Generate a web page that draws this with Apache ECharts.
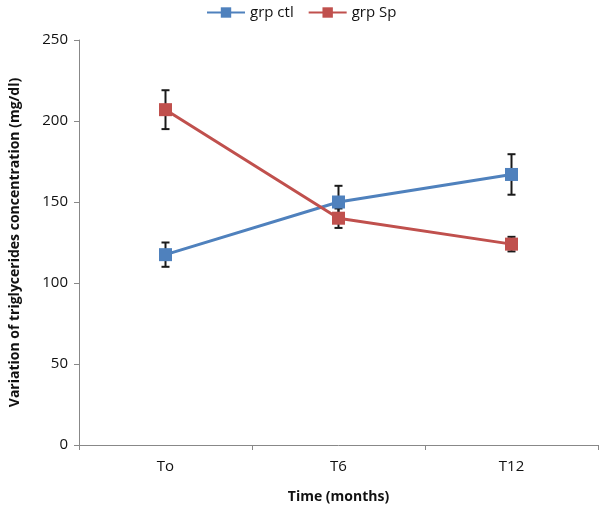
<!DOCTYPE html>
<html>
<head>
<meta charset="utf-8">
<script src="https://cdn.jsdelivr.net/npm/echarts@6/dist/echarts.min.js"></script>
<style>html,body{margin:0;padding:0;background:#fff;}#c{width:600px;height:509px;}</style>
</head>
<body>
<div id="c"></div>
<script>
const categories = ['To', 'T6', 'T12'];
const ctlMean = [117.5, 150, 167];
const ctlErr = [7.5, 10, 12.5];
const spMean = [207, 140, 124];
const spErr = [12, 6, 4.5];
const yTicks = [0, 50, 100, 150, 200, 250];

const chart = echarts.init(document.getElementById('c'));
function errData(mean, err) {
  return mean.map((m, i) => [i, m - err[i], m + err[i]]);
}
function errRender(params, api) {
  const x = api.value(0);
  const lo = api.coord([x, api.value(1)]);
  const hi = api.coord([x, api.value(2)]);
  const w = 4;
  const st = { stroke: '#1a1a1a', lineWidth: 2 };
  return {
    type: 'group',
    children: [
      { type: 'line', shape: { x1: hi[0], y1: hi[1], x2: lo[0], y2: lo[1] }, style: st },
      { type: 'line', shape: { x1: hi[0] - w, y1: hi[1], x2: hi[0] + w, y2: hi[1] }, style: st },
      { type: 'line', shape: { x1: lo[0] - w, y1: lo[1], x2: lo[0] + w, y2: lo[1] }, style: st }
    ]
  };
}
const font = '"Open Sans", "Liberation Sans", sans-serif';
chart.setOption({
  animation: false,
  textStyle: { fontFamily: font },
  legend: {
    data: ['grp ctl', 'grp Sp'],
    left: 201, top: 0,
    itemWidth: 38, itemHeight: 13, itemGap: 14,
    textStyle: { fontSize: 15, color: '#111', fontFamily: font }
  },
  grid: { left: 73, right: 2, top: 40, bottom: 64 },
  xAxis: {
    type: 'category', data: categories, boundaryGap: true,
    axisLine: { lineStyle: { color: '#888', width: 1 } },
    axisTick: { show: true, length: 5, alignWithLabel: false, lineStyle: { color: '#888' } },
    axisLabel: { fontSize: 15, color: '#111', margin: 14, fontFamily: font },
    name: 'Time (months)', nameLocation: 'middle', nameGap: 45,
    nameTextStyle: { fontSize: 14, fontWeight: 'bold', color: '#111', fontFamily: font }
  },
  yAxis: {
    type: 'value', min: 0, max: 250, interval: 50,
    splitLine: { show: false },
    axisLine: { show: true, lineStyle: { color: '#888', width: 1 } },
    axisTick: { show: true, length: 5, lineStyle: { color: '#888' } },
    axisLabel: { fontSize: 15, color: '#111', margin: 11, fontFamily: font,
      formatter: v => yTicks.includes(v) ? String(v) : '' },
    name: 'Variation of triglycerides concentration (mg/dl)',
    nameLocation: 'middle', nameGap: 57, nameRotate: 90,
    nameTextStyle: { fontSize: 14, fontWeight: 'bold', color: '#111', fontFamily: font }
  },
  series: [
    { name: 'ctlErr', type: 'custom', renderItem: errRender, data: errData(ctlMean, ctlErr),
      encode: { x: 0, y: [1, 2] }, z: 1, silent: true },
    { name: 'spErr', type: 'custom', renderItem: errRender, data: errData(spMean, spErr),
      encode: { x: 0, y: [1, 2] }, z: 1, silent: true },
    { name: 'grp ctl', type: 'line', data: ctlMean, symbol: 'rect', symbolSize: 13,
      itemStyle: { color: '#4F81BD' }, lineStyle: { color: '#4F81BD', width: 3 }, z: 3 },
    { name: 'grp Sp', type: 'line', data: spMean, symbol: 'rect', symbolSize: 13,
      itemStyle: { color: '#C0504D' }, lineStyle: { color: '#C0504D', width: 3 }, z: 4 }
  ]
});
</script>
</body>
</html>
